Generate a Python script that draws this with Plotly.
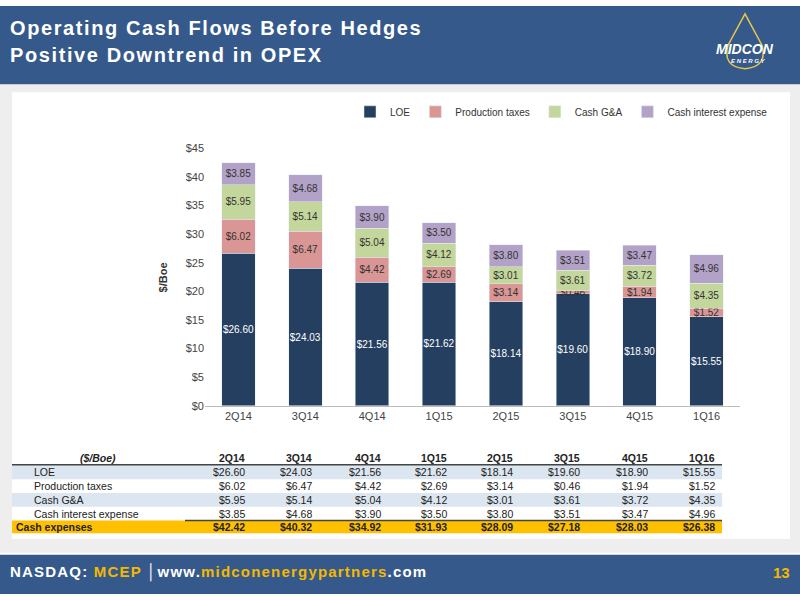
import plotly.graph_objects as go

quarters = ["2Q14", "3Q14", "4Q14", "1Q15", "2Q15", "3Q15", "4Q15", "1Q16"]
loe = [26.60, 24.03, 21.56, 21.62, 18.14, 19.60, 18.90, 15.55]
prod_taxes = [6.02, 6.47, 4.42, 2.69, 3.14, 0.46, 1.94, 1.52]
cash_ga = [5.95, 5.14, 5.04, 4.12, 3.01, 3.61, 3.72, 4.35]
interest = [3.85, 4.68, 3.90, 3.50, 3.80, 3.51, 3.47, 4.96]
totals = [42.42, 40.32, 34.92, 31.93, 28.09, 27.18, 28.03, 26.38]
series_names = ["LOE", "Production taxes", "Cash G&A", "Cash interest expense"]
series_vals = [loe, prod_taxes, cash_ga, interest]
colors = ["#243f60", "#d99694", "#c3d69b", "#b3a2c7"]
text_colors = ["white", "#333333", "#333333", "#333333"]
y_ticks = [0, 5, 10, 15, 20, 25, 30, 35, 40, 45]

W, H = 800, 600
def px(x): return x / W
def py(y): return 1 - y / H

fig = go.Figure()
for name, vals, c, tc in zip(series_names, series_vals, colors, text_colors):
    fig.add_trace(go.Bar(
        x=quarters, y=vals, name=name, marker_color=c, width=0.5,
        text=[f"${v:.2f}" for v in vals], textposition="inside", textangle=0,
        insidetextanchor="middle", constraintext="none",
        textfont=dict(color=tc, size=10, family="Liberation Sans"),
    ))

shapes = [
    dict(type="rect", xref="paper", yref="paper", x0=0, x1=1, y0=py(80), y1=1, fillcolor="#35598a", line_width=0, layer="below"),
    dict(type="rect", xref="paper", yref="paper", x0=0, x1=1, y0=py(558), y1=py(80), fillcolor="#eeeeee", line_width=0, layer="below"),
    dict(type="rect", xref="paper", yref="paper", x0=px(12), x1=px(790), y0=py(544), y1=py(88), fillcolor="white", line_width=0, layer="below"),
    dict(type="rect", xref="paper", yref="paper", x0=0, x1=1, y0=0, y1=py(560), fillcolor="#35598a", line_width=0, layer="below"),
    dict(type="rect", xref="paper", yref="paper", x0=px(12), x1=px(722), y0=py(483), y1=py(468), fillcolor="#dce6f1", line_width=0),
    dict(type="rect", xref="paper", yref="paper", x0=px(12), x1=px(722), y0=py(511), y1=py(497), fillcolor="#dce6f1", line_width=0),
    dict(type="rect", xref="paper", yref="paper", x0=px(12), x1=px(722), y0=py(538), y1=py(525), fillcolor="#ffc000", line_width=0),
    dict(type="line", xref="paper", yref="paper", x0=px(12), x1=px(722), y0=py(468), y1=py(468), line=dict(color="#444", width=1.5)),
    dict(type="line", xref="paper", yref="paper", x0=px(185), x1=px(722), y0=py(525), y1=py(525), line=dict(color="#444", width=1.5)),
    dict(type="path", xref="paper", yref="paper",
         path=f"M {px(745)} {py(8)} L {px(728)} {py(40)} Q {px(722)} {py(62)} {px(745)} {py(64)} Q {px(768)} {py(62)} {px(762)} {py(40)} Z",
         line=dict(color="#e8c84a", width=1.5), fillcolor="rgba(0,0,0,0)"),
]

LS = "<span style='letter-spacing:1.6px'>"
ann = [
    dict(text=f"<b>{LS}Operating Cash Flows Before Hedges</span></b>", x=px(8), y=py(22), xanchor="left", yanchor="middle", font=dict(size=20, color="white", family="Liberation Sans")),
    dict(text=f"<b>{LS}Positive Downtrend in OPEX</span></b>", x=px(8), y=py(50), xanchor="left", yanchor="middle", font=dict(size=20, color="white", family="Liberation Sans")),
    dict(text="<b><i>MIDCON</i></b>", x=px(745), y=py(44), xanchor="center", yanchor="middle", font=dict(size=14, color="white", family="Liberation Sans")),
    dict(text="<b><i>E N E R G Y</i></b>", x=px(748), y=py(56), xanchor="center", yanchor="middle", font=dict(size=6, color="white", family="Liberation Sans")),
    dict(text="<b>$/Boe</b>", x=px(163), y=py(277), textangle=-90, xanchor="center", yanchor="middle", font=dict(size=11, color="#333", family="Liberation Sans")),
    dict(text="<b><span style='letter-spacing:1.2px'>NASDAQ: <span style='color:#f5b800'>MCEP</span> │www.<span style='color:#f5b800'>midconenergypartners</span>.com</span></b>",
         x=px(8), y=py(578), xanchor="left", yanchor="middle", font=dict(size=15, color="white", family="Liberation Sans")),
    dict(text="<b>13</b>", x=px(792), y=py(578), xanchor="right", yanchor="middle", font=dict(size=15, color="#f5b800", family="Liberation Sans")),
]

col_x = [247, 314, 383, 449, 515, 582, 650, 717]
row_y = [461, 476, 490, 504, 518, 532]
tf = dict(size=10.5, color="#222", family="Liberation Sans")
ann.append(dict(text="<b><i>($/Boe)</i></b>", x=px(98), y=py(row_y[0]), xanchor="center", yanchor="middle", font=tf))
for q, cx in zip(quarters, col_x):
    ann.append(dict(text=f"<b>{q}</b>", x=px(cx), y=py(row_y[0]), xanchor="right", yanchor="middle", font=tf))
labels = ["LOE", "Production taxes", "Cash G&A", "Cash interest expense"]
for i, (lab, vals) in enumerate(zip(labels, series_vals)):
    y = row_y[i + 1]
    ann.append(dict(text=lab, x=px(32), y=py(y), xanchor="left", yanchor="middle", font=tf))
    for v, cx in zip(vals, col_x):
        ann.append(dict(text=f"${v:.2f}", x=px(cx), y=py(y), xanchor="right", yanchor="middle", font=tf))
ann.append(dict(text="<b>Cash expenses</b>", x=px(14), y=py(row_y[5]), xanchor="left", yanchor="middle", font=tf))
for v, cx in zip(totals, col_x):
    ann.append(dict(text=f"<b>${v:.2f}</b>", x=px(cx), y=py(row_y[5]), xanchor="right", yanchor="middle", font=tf))
for a in ann:
    a.update(xref="paper", yref="paper", showarrow=False)

fig.update_layout(
    width=W, height=H, margin=dict(l=0, r=0, t=0, b=0),
    paper_bgcolor="white", plot_bgcolor="rgba(0,0,0,0)",
    barmode="stack", bargap=0.5, showlegend=True,
    legend=dict(orientation="h", x=px(350), y=py(108), xanchor="left", yanchor="middle",
                itemwidth=30, tracegroupgap=0,
                font=dict(size=10, color="#333", family="Liberation Sans"), bgcolor="rgba(0,0,0,0)", traceorder="normal"),
    xaxis=dict(domain=[px(205), px(740)], showline=True, linecolor="#bbbbbb", ticks="",
               tickfont=dict(size=11, color="#444", family="Liberation Sans")),
    yaxis=dict(domain=[py(408), py(145)], range=[0, 45], tickvals=y_ticks,
               ticktext=[f"${t}" for t in y_ticks], showgrid=False, zeroline=False,
               tickfont=dict(size=11, color="#444", family="Liberation Sans")),
    shapes=shapes, annotations=ann,
)
fig.write_html("out.html", config={"displayModeBar": False},
               post_script="document.body.style.margin='0';document.body.style.overflow='hidden';"
                           "var d=document.getElementById('{plot_id}');d.style.position='fixed';d.style.top='0';d.style.left='0';")
